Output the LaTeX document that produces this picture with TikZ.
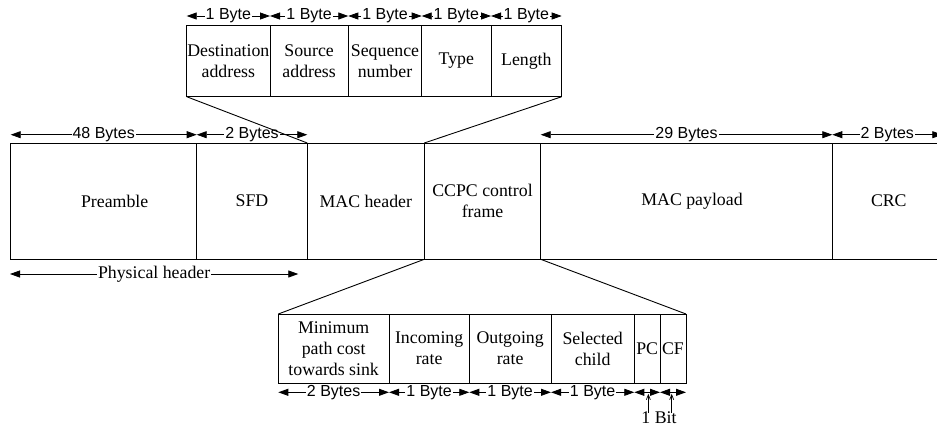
\documentclass[tikz,border=0pt]{standalone}
\usepackage{fontspec}
\setmainfont{Liberation Serif}
\newfontfamily\dimfont{Liberation Sans}
\usetikzlibrary{arrows.meta,calc}

\begin{document}
\begin{tikzpicture}[x=1pt,y=-1pt,
  cell/.style={draw, line width=0.9pt, inner sep=0pt, outer sep=0pt,
    anchor=north west, align=center, font=\fontsize{17.8}{21}\selectfont},
  dim/.style={line width=0.8pt,
    {Triangle[length=10pt,width=7pt]}-{Triangle[length=10pt,width=7pt]}},
  dimlabel/.style={fill=white, inner sep=1pt,
    font=\dimfont\fontsize{16}{18}\selectfont},
  serlabel/.style={fill=white, inner sep=1pt,
    font=\fontsize{17.8}{21}\selectfont},
  link/.style={line width=0.9pt},
  txt/.style={font=\fontsize{17.8}{21}\selectfont, align=center, inner sep=0pt},
  pointer/.style={line width=0.7pt, -{Straight Barb[length=5pt,width=4pt]}}
]
\useasboundingbox (0,0) rectangle (937,429);

% ---- main frame row ----
\node[cell, minimum width=186pt,   minimum height=116.3pt] (pre)  at (10.7,143) {};
\node[cell, minimum width=110.6pt, minimum height=116.3pt] (sfd)  at (196.7,143) {SFD};
\node[cell, minimum width=117pt,   minimum height=116.3pt] (mac)  at (307.3,143) {MAC header};
\node[cell, minimum width=116.4pt, minimum height=116.3pt] (ccpc) at (424.3,143) {CCPC control\\frame};
\node[cell, minimum width=291.6pt, minimum height=116.3pt] (pay)  at (540.7,143) {};
\node[cell, minimum width=114pt,   minimum height=116.3pt] (crc)  at (832.3,143) {};
\node[txt] (pretxt) at ($(pre.center)+(11,0)$) {Preamble};
\node[txt] (paytxt) at ($(pay.center)+(5.5,0)$) {MAC payload};
\node[txt] (crctxt) at ($(crc.center)+(-0.5,0)$) {CRC};

% ---- MAC header fields ----
\node[cell, minimum width=83.3pt, minimum height=71.7pt] (dst) at (186.7,25) {Destination\\address};
\node[cell, minimum width=78.3pt, minimum height=71.7pt] (src) at (270,25) {Source\\address};
\node[cell, minimum width=73.4pt, minimum height=71.7pt] (seq) at (348.3,25) {Sequence\\number};
\node[cell, minimum width=69.3pt, minimum height=71.7pt] (typ) at (421.7,25) {Type};
\node[cell, minimum width=70.7pt, minimum height=71.7pt] (len) at (491,25) {Length};

% ---- CCPC control frame fields ----
\node[cell, minimum width=110.7pt, minimum height=69.3pt] (mpc) at (278.3,314) {Minimum\\path cost\\towards sink};
\node[cell, minimum width=80.3pt,  minimum height=69.3pt] (inc) at (389,314) {Incoming\\rate};
\node[cell, minimum width=81.7pt,  minimum height=69.3pt] (out) at (469.3,314) {Outgoing\\rate};
\node[cell, minimum width=83.3pt,  minimum height=69.3pt] (sel) at (551,314) {Selected\\child};
\node[cell, minimum width=25.7pt,  minimum height=69.3pt] (pc)  at (634.3,314) {PC};
\node[cell, minimum width=26pt,    minimum height=69.3pt] (cf)  at (660,314) {CF};

% ---- size arrows above the MAC header fields ----
\foreach \n in {dst,src,seq,typ,len}{
  \draw[dim] ($(\n.north west)+(0,-9)$) -- node[dimlabel]{1 Byte} ($(\n.north east)+(0,-9)$);
}

% ---- size arrows above the main row ----
\draw[dim] ($(pre.north west)+(0,-8.3)$) -- node[dimlabel]{48 Bytes} ($(pre.north east)+(0,-8.3)$);
\draw[dim] ($(sfd.north west)+(0,-8.3)$) -- node[dimlabel]{2 Bytes} ($(sfd.north east)+(0,-8.3)$);
\draw[dim] ($(pay.north west)+(0,-8.3)$) -- node[dimlabel]{29 Bytes} ($(pay.north east)+(0,-8.3)$);
\draw[dim] ($(crc.north west)+(0,-8.3)$) -- node[dimlabel]{2 Bytes} ($(crc.north east)+(-4,-8.3)$);

% ---- physical header span ----
\draw[dim] ($(pre.south west)+(-0.7,14.7)$) -- node[serlabel]{Physical header} ($(sfd.south east)+(-9,14.7)$);

% ---- size arrows below the CCPC fields ----
\draw[dim] ($(mpc.south west)+(0,9)$) -- node[dimlabel]{2 Bytes} ($(mpc.south east)+(0,9)$);
\foreach \n in {inc,out,sel}{
  \draw[dim] ($(\n.south west)+(0,9)$) -- node[dimlabel]{1 Byte} ($(\n.south east)+(0,9)$);
}
\draw[dim] ($(pc.south west)+(0,9)$) -- ($(pc.south east)+(0,9)$);
\draw[dim] ($(cf.south west)+(0,9)$) -- ($(cf.south east)+(0,9)$);

% ---- one-bit note ----
\node[txt, anchor=base] (bit) at (659,423.5) {1 Bit};
\draw[pointer] ($(pc.south)+(1.2,29.7)$) -- ($(pc.south)+(1.2,10.5)$);
\draw[pointer] ($(cf.south)+(-1.3,29.7)$) -- ($(cf.south)+(-1.3,10.5)$);

% ---- expansion lines ----
\draw[link] (dst.south west) -- (sfd.north east);
\draw[link] (len.south east) -- (mac.north east);
\draw[link] (ccpc.south west) -- (mpc.north west);
\draw[link] (ccpc.south east) -- (cf.north east);
\end{tikzpicture}
\end{document}
